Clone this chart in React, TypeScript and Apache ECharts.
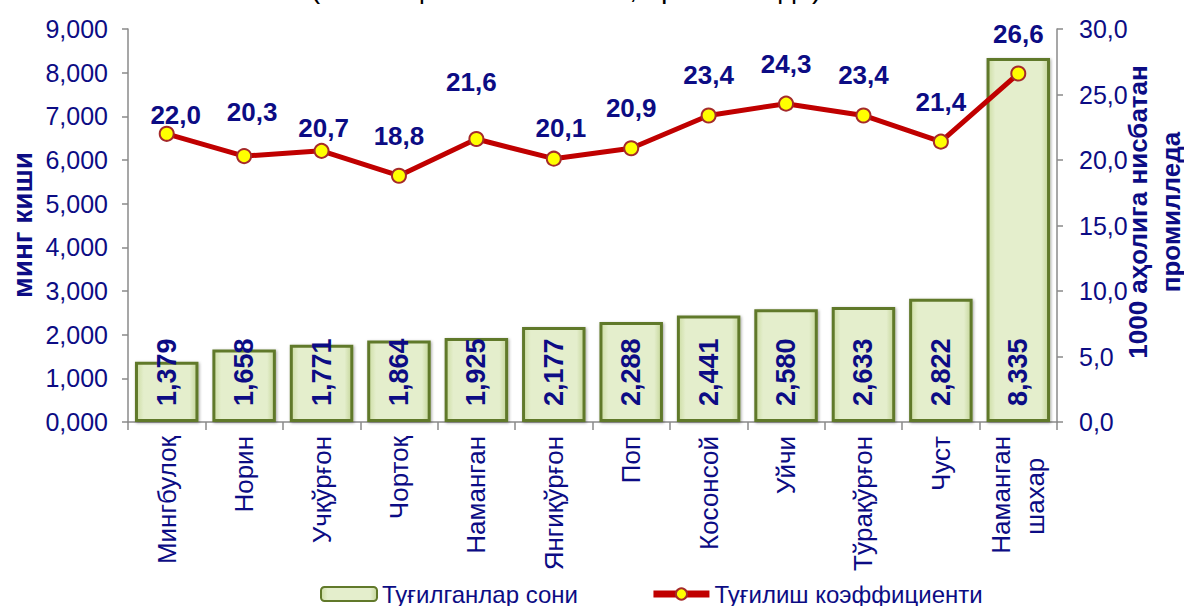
import React, { useEffect, useRef } from "react";
import * as echarts from "echarts";

const categories = [
  "Мингбулоқ",
  "Норин",
  "Учқўрғон",
  "Чортоқ",
  "Наманган",
  "Янгиқўрғон",
  "Поп",
  "Косонсой",
  "Уйчи",
  "Тўрақўрғон",
  "Чуст",
  "Наманган\nшахар   ",
];
const births = [1379, 1658, 1771, 1864, 1925, 2177, 2288, 2441, 2580, 2633, 2822, 8335];
const birthRate = [22.0, 20.3, 20.7, 18.8, 21.6, 20.1, 20.9, 23.4, 24.3, 23.4, 21.4, 26.6];

// label nudges (style only), as placed in the original chart
const rateLabelNudge: [number, number][] = [
  [9, 21], [8, -4], [2, 17], [0, 0], [-5, -17], [7, 9],
  [0, 0], [0, 0], [0, 0], [0, 0], [0, 0], [0, 0],
];

const barName = "Туғилганлар сони";
const lineName = "Туғилиш коэффициенти";
const leftAxisName = "минг киши";
const rightAxisName = "1000 аҳолига нисбатан\nпромилледа";
const titleText = "(1000 аҳолига нисбатан, промилледа)";

const NAVY = "#0c0c84";
const FONT = "'Liberation Sans', Arial, sans-serif";

export default function App() {
  const ref = useRef<HTMLDivElement>(null);
  useEffect(() => {
    if (!ref.current) return;
    const chart = echarts.init(ref.current, null, { renderer: "svg" });
    const axisLine = { show: true, lineStyle: { color: "#8a8a8a", width: 1.5 } };
    const lineData = birthRate.map((v, i) => ({
      value: v,
      label: { offset: rateLabelNudge[i] },
    }));
    chart.setOption({
      animation: false,
      backgroundColor: "#ffffff",
      textStyle: { fontFamily: FONT },
      grid: { left: 128, right: 127, top: 29, bottom: 184 },
      legend: {
        left: 315,
        top: 577,
        itemWidth: 56,
        itemHeight: 14,
        itemGap: 72,
        textStyle: { color: NAVY, fontSize: 24, fontFamily: FONT },
        data: [
          { name: barName },
          { name: lineName, lineStyle: { width: 7, color: "#c00000" } },
        ],
      },
      xAxis: {
        type: "category",
        data: categories,
        axisLine,
        axisTick: { show: true, length: 8, lineStyle: { color: "#8a8a8a", width: 1.5 } },
        axisLabel: {
          rotate: 90,
          interval: 0,
          margin: 14,
          color: NAVY,
          fontSize: 26,
          fontFamily: FONT,
          lineHeight: 34,
        },
      },
      yAxis: [
        {
          type: "value",
          min: 0,
          max: 9000,
          interval: 1000,
          splitLine: { show: false },
          axisLine,
          axisTick: { show: true, length: 6, lineStyle: { color: "#8a8a8a", width: 1.5 } },
          axisLabel: {
            margin: 20,
            color: NAVY,
            fontSize: 25,
            fontFamily: FONT,
            formatter: (v: number) => (v / 1000).toFixed(3).replace(".", ","),
          },
        },
        {
          type: "value",
          min: 0,
          max: 30,
          interval: 5,
          splitLine: { show: false },
          axisLine,
          axisTick: { show: true, length: 6, lineStyle: { color: "#8a8a8a", width: 1.5 } },
          axisLabel: {
            margin: 22,
            color: NAVY,
            fontSize: 25,
            fontFamily: FONT,
            formatter: (v: number) => v.toFixed(1).replace(".", ","),
          },
        },
      ],
      series: [
        {
          name: barName,
          type: "bar",
          yAxisIndex: 0,
          data: births,
          barCategoryGap: "18%",
          itemStyle: {
            color: {
              type: "linear",
              x: 0,
              y: 0,
              x2: 1,
              y2: 0,
              colorStops: [
                { offset: 0, color: "#cddda4" },
                { offset: 0.12, color: "#e4eecc" },
                { offset: 0.88, color: "#e4eecc" },
                { offset: 1, color: "#c5d69a" },
              ],
            },
            borderColor: "#61792a",
            borderWidth: 3,
            shadowColor: "rgba(0,0,0,0.35)",
            shadowBlur: 3,
            shadowOffsetX: 1,
            shadowOffsetY: 1,
          },
          label: {
            show: true,
            position: "insideBottom",
            rotate: 90,
            align: "left",
            verticalAlign: "middle",
            distance: 16,
            color: NAVY,
            fontSize: 27,
            fontWeight: "bold",
            fontFamily: FONT,
            formatter: (p: any) => (p.value / 1000).toFixed(3).replace(".", ","),
          },
        },
        {
          name: lineName,
          type: "line",
          yAxisIndex: 1,
          data: lineData,
          z: 5,
          symbol: "circle",
          symbolSize: 14,
          lineStyle: { color: "#c00000", width: 5 },
          itemStyle: { color: "#ffff00", borderColor: "#a52a2a", borderWidth: 2 },
          label: {
            show: true,
            position: "top",
            distance: 19,
            color: NAVY,
            fontSize: 26,
            fontWeight: "bold",
            fontFamily: FONT,
            formatter: (p: any) => Number(p.value).toFixed(1).replace(".", ","),
          },
        },
      ],
      graphic: [
        {
          type: "text",
          x: 566,
          y: 2,
          style: {
            text: titleText,
            align: "center",
            verticalAlign: "bottom",
            fill: "#000000",
            font: `29px ${FONT}`,
          },
        },
        {
          type: "text",
          x: 22,
          y: 225,
          rotation: Math.PI / 2,
          style: {
            text: leftAxisName,
            align: "center",
            verticalAlign: "middle",
            fill: NAVY,
            font: `bold 28px ${FONT}`,
          },
        },
        {
          type: "text",
          x: 1154,
          y: 212,
          rotation: Math.PI / 2,
          style: {
            text: rightAxisName,
            align: "center",
            verticalAlign: "middle",
            fill: NAVY,
            font: `bold 26px ${FONT}`,
            lineHeight: 33,
          },
        },
      ],
    });
    return () => chart.dispose();
  }, []);
  return (
    <div
      ref={ref}
      style={{ position: "fixed", left: 0, top: 0, width: 1184, height: 606 }}
    />
  );
}
